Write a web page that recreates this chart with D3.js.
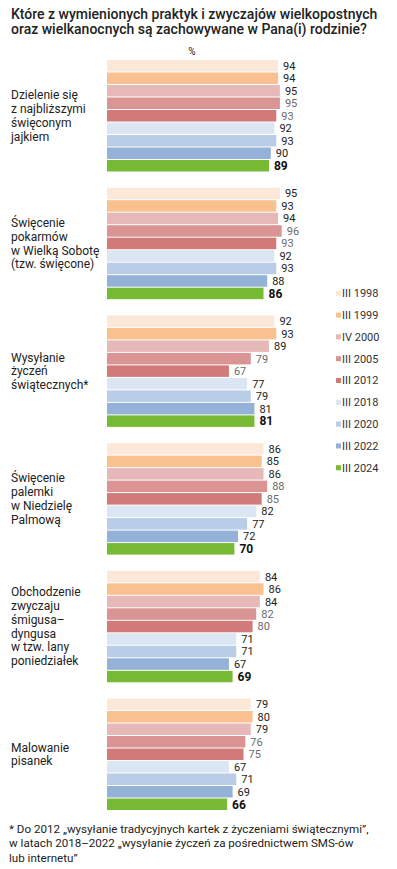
<!DOCTYPE html>
<html>
<head>
<meta charset="utf-8">
<script src="https://cdn.jsdelivr.net/npm/d3@7"></script>
<style>
  body { margin: 0; background: #fff; }
  text { font-family: Roboto, "Noto Sans", sans-serif; }
</style>
</head>
<body>
<div id="chart"></div>
<script>
const categories = [
    "Dzielenie się z najbliższymi święconym jajkiem",
    "Święcenie pokarmów w Wielką Sobotę (tzw. święcone)",
    "Wysyłanie życzeń świątecznych*",
    "Święcenie palemki w Niedzielę Palmową",
    "Obchodzenie zwyczaju śmigusa–dyngusa w tzw. lany poniedziałek",
    "Malowanie pisanek"
]
const categoryLines = [
    ["Dzielenie się", "z najbliższymi", "święconym", "jajkiem"],
    ["Święcenie", "pokarmów", "w Wielką Sobotę", "(tzw. święcone)"],
    ["Wysyłanie", "życzeń", "świątecznych*"],
    ["Święcenie", "palemki", "w Niedzielę", "Palmową"],
    ["Obchodzenie", "zwyczaju", "śmigusa–", "dyngusa", "w tzw. lany", "poniedziałek"],
    ["Malowanie", "pisanek"]
]
const years = ["III 1998", "III 1999", "IV 2000", "III 2005", "III 2012", "III 2018", "III 2020", "III 2022", "III 2024"]

const v1998 = [94, 95, 92, 86, 84, 79]
const v1999 = [94, 93, 93, 85, 86, 80]
const v2000 = [95, 94, 89, 86, 84, 79]
const v2005 = [95, 96, 79, 88, 82, 76]
const v2012 = [93, 93, 67, 85, 80, 75]
const v2018 = [92, 92, 77, 82, 71, 67]
const v2020 = [93, 93, 79, 77, 71, 71]
const v2022 = [90, 88, 81, 72, 67, 69]
const v2024 = [89, 86, 81, 70, 69, 66]
const series = [v1998, v1999, v2000, v2005, v2012, v2018, v2020, v2022, v2024]

const colors = ["#fce8d9", "#f9c190", "#e7b8b8", "#da9494", "#d27a7a", "#dce6f2", "#b9cde6", "#94b2d7", "#76bb33"]
const labelColors = ["#222", "#222", "#222", "#6b6b6b", "#6b6b6b", "#222", "#222", "#222", "#111"]

const width = 397
const height = 869

const svg = d3.select("#chart")
    .append("svg")
    .attr("width", width)
    .attr("height", height)

// title
svg.append("text")
    .attr("x", 11)
    .attr("y", 18.5)
    .attr("font-size", 14)
    .attr("font-weight", 500)
    .attr("fill", "#222")
    .text("Które z wymienionych praktyk i zwyczajów wielkopostnych")
svg.append("text")
    .attr("x", 11)
    .attr("y", 34)
    .attr("font-size", 14)
    .attr("font-weight", 500)
    .attr("fill", "#222")
    .text("oraz wielkanocnych są zachowywane w Pana(i) rodzinie?")

svg.append("text")
    .attr("x", 192)
    .attr("y", 55)
    .attr("font-size", 10)
    .attr("text-anchor", "middle")
    .attr("fill", "#222")
    .text("%")

const xScale = d3.scaleLinear()
    .domain([0, 100])
    .range([107, 289])

const groupScale = d3.scaleBand()
    .domain(categories)
    .range([60, 810])
    .paddingInner(0.127)
    .paddingOuter(0)

const rowScale = d3.scaleBand()
    .domain(years)
    .range([0, groupScale.bandwidth()])
    .paddingInner(0.08)
    .paddingOuter(0)

const groups = svg.selectAll("g.group")
    .data(categories)
    .join("g")
    .attr("class", "group")
    .attr("transform", d => `translate(0, ${groupScale(d)})`)

groups.each(function (cat, ci) {
    const g = d3.select(this)
    const rows = years.map((y, yi) => ({year: y, yi, value: series[yi][ci]}))

    g.selectAll("rect")
        .data(rows)
        .join("rect")
        .attr("x", xScale(0))
        .attr("y", d => rowScale(d.year))
        .attr("width", d => xScale(d.value) - xScale(0))
        .attr("height", rowScale.bandwidth())
        .attr("fill", d => colors[d.yi])

    g.selectAll("text.value")
        .data(rows)
        .join("text")
        .attr("class", "value")
        .attr("x", d => xScale(d.value) + 5)
        .attr("y", d => rowScale(d.year) + rowScale.bandwidth() / 2)
        .attr("dy", "0.36em")
        .attr("font-size", d => d.yi === 8 ? 12 : 11)
        .attr("font-weight", d => d.yi === 8 ? 700 : 400)
        .attr("fill", d => labelColors[d.yi])
        .text(d => d.value)

    const lines = categoryLines[ci]
    const lineHeight = 13.8
    const mid = groupScale.bandwidth() / 2
    g.append("text")
        .attr("class", "category")
        .attr("font-size", 12)
        .attr("fill", "#222")
        .selectAll("tspan")
        .data(lines)
        .join("tspan")
        .attr("x", 11)
        .attr("y", (d, i) => mid + (i - (lines.length - 1) / 2) * lineHeight)
        .attr("dy", "0.35em")
        .text(d => d)
})

// legend
const legendScale = d3.scalePoint()
    .domain(years)
    .range([293.3, 467.7])

const legend = svg.append("g").attr("class", "legend")
legend.selectAll("rect")
    .data(years)
    .join("rect")
    .attr("x", 336)
    .attr("y", d => legendScale(d) - 2.5)
    .attr("width", 5)
    .attr("height", 5)
    .attr("fill", (d, i) => colors[i])
legend.selectAll("text")
    .data(years)
    .join("text")
    .attr("x", 342)
    .attr("y", d => legendScale(d))
    .attr("dy", "0.35em")
    .attr("font-size", 11)
    .attr("fill", "#333")
    .text(d => d)

// footnote
const footnote = [
    "* Do 2012 „wysyłanie tradycyjnych kartek z życzeniami świątecznymi”,",
    "w latach 2018–2022 „wysyłanie życzeń za pośrednictwem SMS-ów",
    "lub internetu”"
]
svg.append("g")
    .selectAll("text")
    .data(footnote)
    .join("text")
    .attr("x", 9)
    .attr("y", (d, i) => 832.5 + i * 14.5)
    .attr("font-size", 11.6)
    .attr("fill", "#222")
    .text(d => d)
</script>
</body>
</html>
